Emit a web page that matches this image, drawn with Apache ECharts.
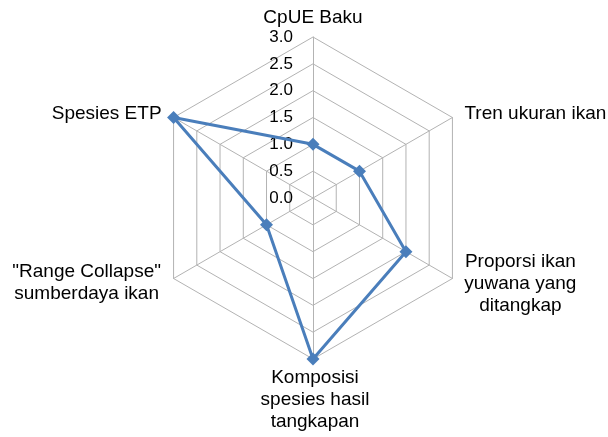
<!DOCTYPE html>
<html>
<head>
<meta charset="utf-8">
<script src="https://cdn.jsdelivr.net/npm/echarts@6/dist/echarts.min.js"></script>
<style>
  html, body { margin: 0; padding: 0; background: #fff; }
  #main { width: 608px; height: 437px; }
</style>
</head>
<body>
<div id="main"></div>
<script>
var myChart = echarts.init(document.getElementById('main'));

// indicators listed counter-clockwise from the top (ECharts radar order)
var categories = [
    'CpUE Baku',
    'Spesies ETP',
    '"Range Collapse"\nsumberdaya ikan',
    'Komposisi\nspesies hasil\ntangkapan',
    'Proporsi ikan\nyuwana yang\nditangkap',
    'Tren ukuran ikan'
];
var values = [1.0, 3.0, 1.0, 3.0, 2.0, 1.0];
var maxValue = 3.0;

// which rich style each indicator name uses (pushes the text away from the vertex)
var nameStyle = ['c', 'l1', 'l2', 'b', 'r2', 'r1'];

var indicator = categories.map(function (name, i) {
    var item = { name: name, min: 0, max: maxValue };
    if (i === 0) {
        item.axisLabel = { show: true };
    }
    return item;
});

var nameFont = {
    color: '#000000',
    fontFamily: 'Liberation Sans',
    fontSize: 19,
    lineHeight: 22
};

option = {
    backgroundColor: '#ffffff',
    radar: {
        center: [313, 198],
        radius: 161,
        shape: 'polygon',
        splitNumber: 6,
        indicator: indicator,
        nameGap: 8,
        axisName: {
            color: '#000000',
            fontFamily: 'Liberation Sans',
            fontSize: 19,
            lineHeight: 22,
            align: 'center',
            formatter: function (name) {
                var key = nameStyle[categories.indexOf(name)];
                return name.split('\n').map(function (line) {
                    return '{' + key + '|' + line + '}';
                }).join('\n');
            },
            rich: {
                c: echarts.util.extend({}, nameFont),
                b: echarts.util.extend({ padding: [0, 0, 0, 4] }, nameFont),
                l1: echarts.util.extend({ padding: [0, 120, 0, 0] }, nameFont),
                l2: echarts.util.extend({ padding: [0, 160, 0, 0], lineHeight: 19 }, nameFont),
                r1: echarts.util.extend({ padding: [0, 0, 0, 152] }, nameFont),
                r2: echarts.util.extend({ padding: [2, 0, 0, 122], lineHeight: 21 }, nameFont)
            }
        },
        axisLine: { lineStyle: { color: '#b3b3b3', width: 1 } },
        splitLine: { lineStyle: { color: '#b3b3b3', width: 1 } },
        splitArea: { show: false },
        axisTick: { show: false },
        axisLabel: {
            show: false,
            color: '#000000',
            fontFamily: 'Liberation Sans',
            fontSize: 17,
            margin: 20,
            showMinLabel: true,
            showMaxLabel: true,
            formatter: function (v) {
                return v.toFixed(1);
            }
        }
    },
    series: [{
        type: 'radar',
        symbol: 'diamond',
        symbolSize: 13,
        lineStyle: { color: '#4a7ebb', width: 3 },
        itemStyle: { color: '#4a7ebb' },
        data: [{ value: values, name: 'Nilai' }]
    }]
};

myChart.setOption(option);
</script>
</body>
</html>
